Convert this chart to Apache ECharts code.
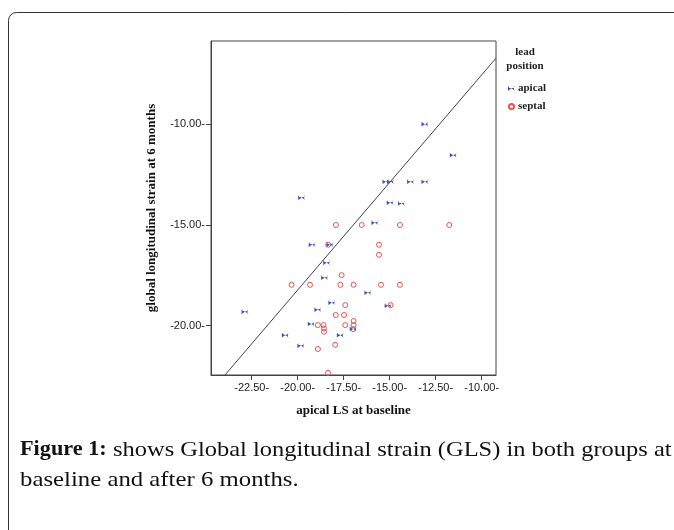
<!DOCTYPE html>
<html>
<head>
<meta charset="utf-8">
<script src="https://cdn.jsdelivr.net/npm/echarts@6/dist/echarts.min.js"></script>
<style>
  html, body { margin: 0; padding: 0; background: #fff; }
  #chart { width: 674px; height: 530px; }
</style>
</head>
<body>
<div id="chart"></div>
<script>
// values: [apical LS at baseline, GLS at 6 months]
var apicalPoints = [
  [-13.08, -10.0], [-11.54, -11.54], [-15.2, -12.85], [-14.95, -12.85],
  [-13.86, -12.85], [-13.08, -12.85], [-19.78, -13.65], [-14.97, -13.89],
  [-14.35, -13.93], [-15.8, -14.89], [-19.21, -15.98], [-18.24, -15.98],
  [-18.42, -16.88], [-18.53, -17.62], [-16.18, -18.37], [-18.14, -18.86],
  [-18.9, -19.21], [-15.08, -19.01], [-22.86, -19.31], [-19.26, -19.92],
  [-16.98, -20.17], [-20.67, -20.47], [-17.68, -20.47], [-19.82, -21.0]
];
var septalPoints = [
  [-17.92, -15.0], [-16.52, -15.0], [-14.44, -15.0], [-11.76, -15.0],
  [-18.34, -15.98], [-15.58, -15.98], [-15.58, -16.48], [-17.61, -17.49],
  [-20.33, -17.97], [-19.33, -17.97], [-17.68, -17.97], [-16.96, -17.97],
  [-15.47, -17.97], [-14.44, -17.97], [-17.41, -18.98], [-14.95, -18.98],
  [-17.93, -19.47], [-17.48, -19.47], [-16.96, -19.77], [-18.9, -19.97],
  [-18.59, -19.97], [-17.41, -19.97], [-16.96, -19.97], [-18.57, -20.14],
  [-18.57, -20.3], [-16.99, -20.17], [-17.96, -20.95], [-18.9, -21.16],
  [-18.35, -22.34]
];
var fitLine = [[-23.95, -22.45], [-9.22, -6.71]];
var xTicks = [-22.5, -20, -17.5, -15, -12.5, -10];
var yTicks = [-20, -15, -10];
var xRange = [-24.71, -9.22];
var yRange = [-22.45, -5.86];

var myChart = echarts.init(document.getElementById("chart"));

var serif = "'Liberation Serif', 'Times New Roman', serif";
var sans = "'Liberation Sans', Arial, sans-serif";

var option = {
  backgroundColor: "#fff",
  animation: false,
  graphic: [
    {
      type: "rect",
      shape: { x: 8.5, y: 12.5, width: 720, height: 600, r: 8 },
      style: { fill: "none", stroke: "#333", lineWidth: 1 },
      silent: true
    },
    {
      type: "text",
      x: 525, y: 52,
      style: { text: "lead", font: "bold 11px " + serif, fill: "#222", align: "center", verticalAlign: "middle" }
    },
    {
      type: "text",
      x: 525, y: 66,
      style: { text: "position", font: "bold 11px " + serif, fill: "#222", align: "center", verticalAlign: "middle" }
    },
    // caption: the original face is wider than Times, so stretch it a little
    {
      type: "text",
      x: 20, y: 450,
      scaleX: 1.06,
      style: { text: "Figure 1:", font: "bold 21px " + serif, fill: "#111", verticalAlign: "middle" }
    },
    {
      type: "text",
      x: 113, y: 450,
      scaleX: 1.165,
      style: { text: "shows Global longitudinal strain (GLS) in both groups at", font: "21px " + serif, fill: "#111", verticalAlign: "middle" }
    },
    {
      type: "text",
      x: 20, y: 480,
      scaleX: 1.18,
      style: { text: "baseline and after 6 months.", font: "21px " + serif, fill: "#111", verticalAlign: "middle" }
    }
  ],
  legend: {
    orient: "vertical",
    left: 503,
    top: 78,
    itemWidth: 7,
    itemHeight: 5,
    itemGap: 7,
    data: ["apical", "septal"],
    textStyle: { fontFamily: serif, fontWeight: "bold", fontSize: 11, color: "#222", padding: [0, 0, 0, -2] }
  },
  grid: { left: 211, top: 41, width: 285, height: 334, show: true, borderColor: "#444", borderWidth: 1 },
  xAxis: {
    type: "value",
    min: xRange[0],
    max: xRange[1],
    name: "apical LS at baseline",
    nameLocation: "middle",
    nameGap: 29,
    nameTextStyle: { fontFamily: serif, fontWeight: "bold", fontSize: 13, color: "#111" },
    axisLine: { show: true, lineStyle: { color: "#444" } },
    axisTick: { show: true, customValues: xTicks, length: 5, lineStyle: { color: "#444" } },
    axisLabel: {
      customValues: xTicks,
      margin: 7,
      fontFamily: sans,
      fontSize: 11,
      color: "#222",
      formatter: function (v) { return v.toFixed(2) + "-"; }
    },
    splitLine: { show: false }
  },
  yAxis: {
    type: "value",
    min: yRange[0],
    max: yRange[1],
    name: "global longitudinal strain at 6 months",
    nameLocation: "middle",
    nameGap: 53,
    nameRotate: 90,
    nameTextStyle: { fontFamily: serif, fontWeight: "bold", fontSize: 13, color: "#111" },
    axisLine: { show: true, lineStyle: { color: "#444" } },
    axisTick: { show: true, customValues: yTicks, length: 5, lineStyle: { color: "#444" } },
    axisLabel: {
      customValues: yTicks,
      margin: 6,
      fontFamily: sans,
      fontSize: 11,
      color: "#222",
      formatter: function (v) { return v.toFixed(2) + "-"; }
    },
    splitLine: { show: false }
  },
  series: [
    {
      name: "fit",
      type: "line",
      data: fitLine,
      symbol: "none",
      silent: true,
      lineStyle: { color: "#444", width: 1 },
      z: 1
    },
    {
      name: "apical",
      type: "scatter",
      data: apicalPoints,
      symbol: "path://M0,0L3.5,2L0,4Z M7,0L3.5,2L7,4Z M0,0L1,0L1,4L0,4Z M6,0L7,0L7,4L6,4Z",
      symbolSize: [7, 4],
      itemStyle: { color: "#3552c0", opacity: 1 },
      z: 3
    },
    {
      name: "septal",
      type: "scatter",
      data: septalPoints,
      symbol: "circle",
      symbolSize: 5,
      itemStyle: { color: "rgba(0,0,0,0)", borderColor: "#f05050", borderWidth: 1, opacity: 1 },
      z: 2
    }
  ]
};

myChart.setOption(option);
</script>
</body>
</html>
